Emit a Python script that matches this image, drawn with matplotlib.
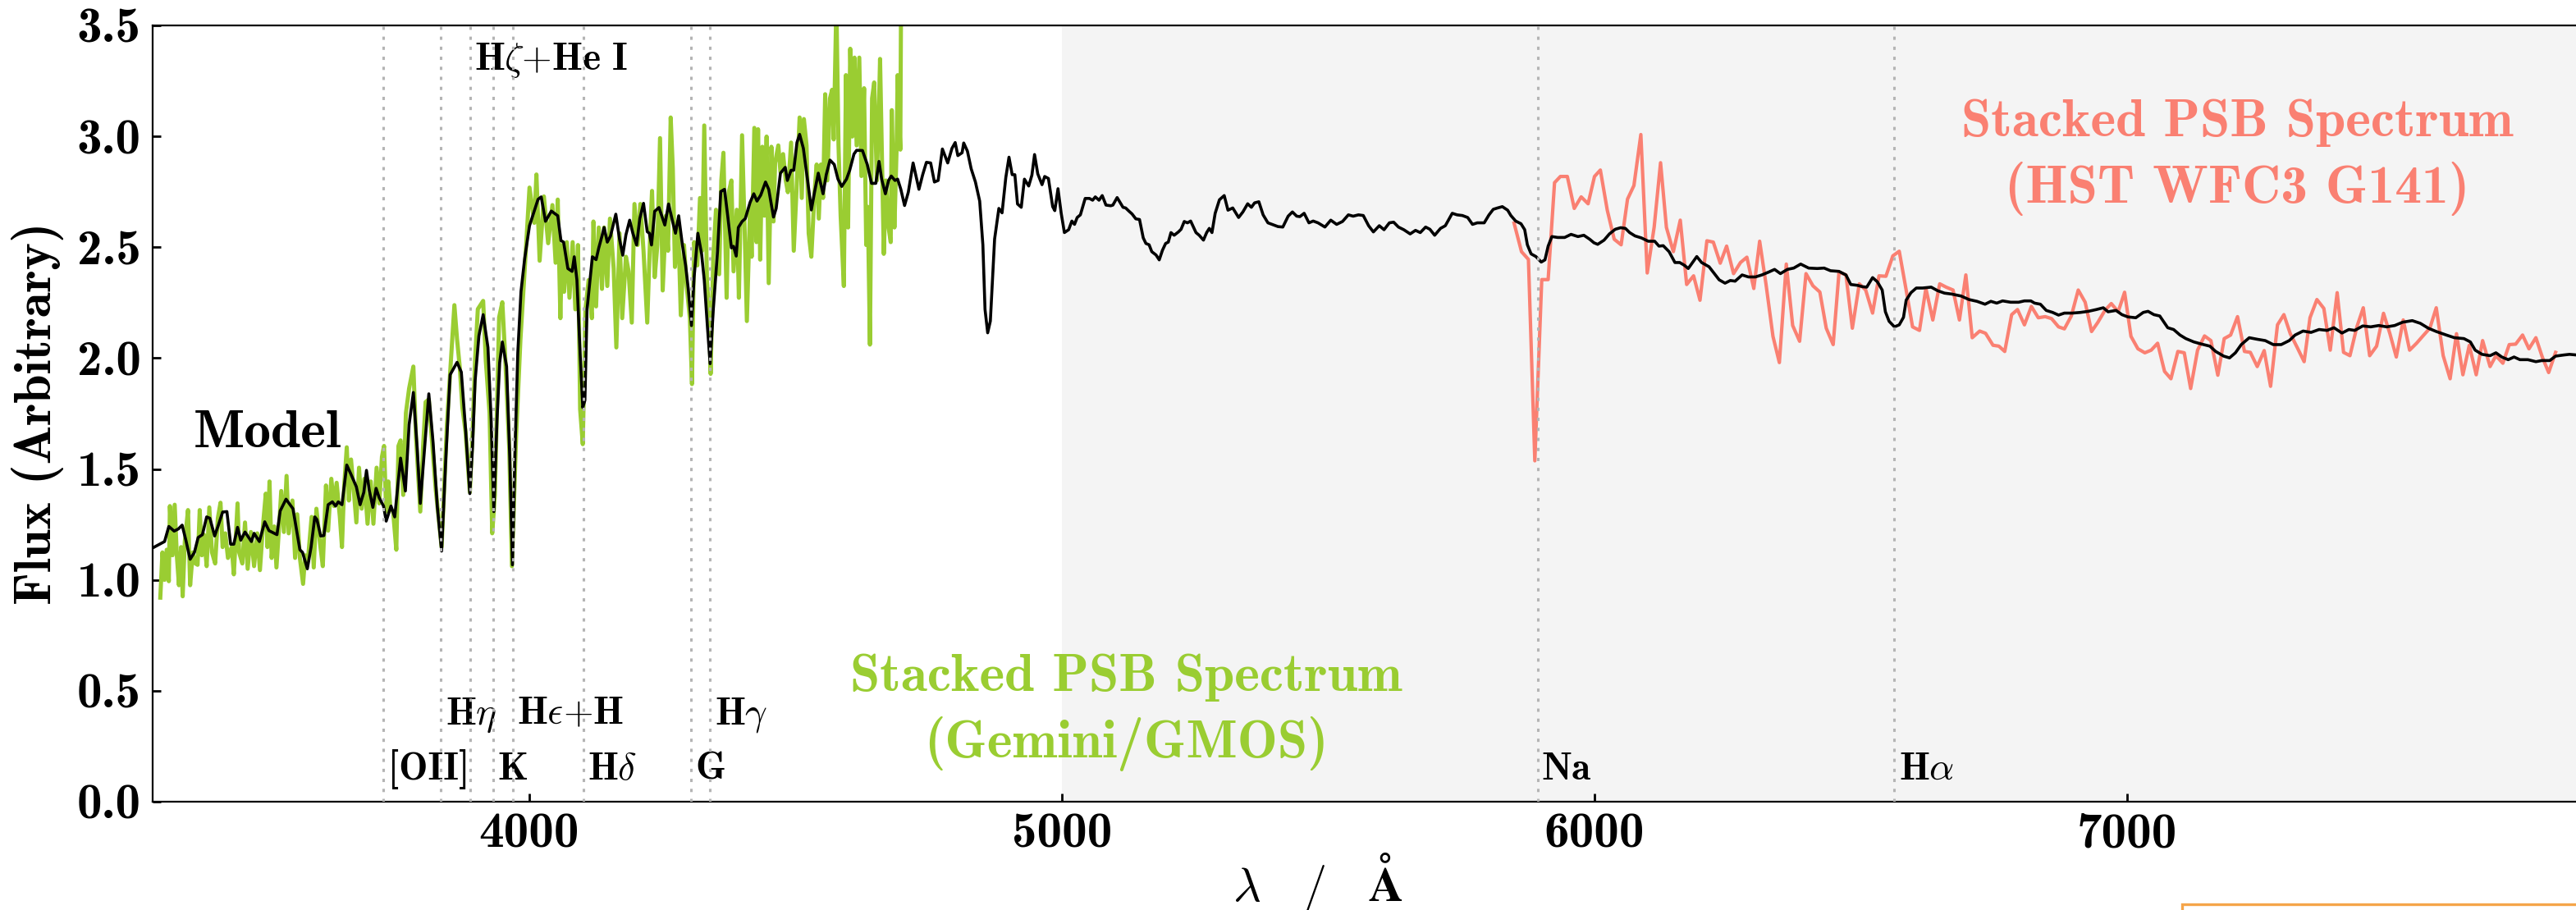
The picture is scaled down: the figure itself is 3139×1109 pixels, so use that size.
import matplotlib
matplotlib.use("Agg")
import matplotlib.pyplot as plt
import matplotlib.patches as patches
from matplotlib.ticker import MultipleLocator

plt.rcParams["font.family"] = ["cmb10", "DejaVu Serif"]
plt.rcParams["mathtext.fontset"] = "cm"
plt.rcParams["axes.unicode_minus"] = False

# Stacked GMOS spectrum (optical)
gmos_wave = [3308, 3312, 3316, 3320, 3324, 3326, 3331, 3335, 3339, 3343, 3347, 3350, 3354, 3360, 3364,
             3369, 3374, 3378, 3382, 3386, 3390, 3395, 3400, 3405, 3411, 3416, 3421, 3425, 3430, 3435,
             3442, 3446, 3453, 3456, 3462, 3467, 3472, 3478, 3484, 3490, 3495, 3501, 3506, 3509, 3513,
             3517, 3522, 3526, 3531, 3535, 3540, 3545, 3549, 3556, 3561, 3565, 3570, 3576, 3580, 3585,
             3592, 3596, 3601, 3608, 3613, 3619, 3623, 3629, 3634, 3639, 3645, 3649, 3653, 3658, 3662,
             3666, 3671, 3676, 3681, 3686, 3691, 3697, 3703, 3708, 3714, 3719, 3724, 3728, 3732, 3736,
             3740, 3745, 3751, 3755, 3759, 3764, 3769, 3775, 3783, 3788, 3796, 3801, 3806, 3812, 3817,
             3825, 3836, 3846, 3854, 3860, 3865, 3870, 3875, 3881, 3889, 3894, 3899, 3904, 3914, 3919,
             3926, 3931, 3936, 3944, 3950, 3955, 3963, 3968, 3976, 3984, 3992, 4001, 4010, 4014, 4020,
             4028, 4036, 4044, 4050, 4054, 4059, 4062, 4066, 4071, 4076, 4082, 4087, 4092, 4096, 4101,
             4106, 4112, 4118, 4121, 4126, 4131, 4137, 4141, 4147, 4152, 4159, 4164, 4170, 4175, 4182,
             4187, 4193, 4198, 4204, 4209, 4215, 4222, 4228, 4231, 4236, 4241, 4246, 4251, 4257, 4261,
             4266, 4270, 4274, 4280, 4285, 4291, 4296, 4302, 4306, 4310, 4316, 4321, 4325, 4329, 4334,
             4338, 4341, 4346, 4351, 4357, 4361, 4365, 4371, 4375, 4380, 4384, 4390, 4394, 4400, 4405,
             4409, 4415, 4418, 4423, 4427, 4430, 4434, 4438, 4442, 4446, 4450, 4455, 4459, 4462, 4468,
             4472, 4477, 4482, 4486, 4492, 4497, 4503, 4508, 4512, 4516, 4521, 4525, 4530, 4536, 4540,
             4544, 4548, 4552, 4556, 4560, 4565, 4569, 4572, 4577, 4581, 4585, 4591, 4595, 4599, 4603,
             4607, 4611, 4615, 4620, 4624, 4629, 4633, 4636, 4640, 4644, 4648, 4653, 4657, 4659, 4664,
             4666, 4670, 4675, 4679, 4681, 4686, 4690, 4692, 4697, 4699]
gmos_flux = [0.92, 1.124, 1.0, 1.136, 0.994, 1.333, 1.111, 1.339, 1.111, 0.976, 1.148, 0.926, 1.173, 1.315, 0.976,
             1.124, 1.074, 1.068, 1.315, 1.111, 1.204, 1.062, 1.327, 1.124, 1.074, 1.278, 1.348, 1.148, 1.21, 1.099,
             1.148, 1.025, 1.345, 1.124, 1.074, 1.259, 1.05, 1.216, 1.062, 1.21, 1.044, 1.253, 1.389, 1.148, 1.444,
             1.099, 1.241, 1.056, 1.241, 1.401, 1.216, 1.469, 1.21, 1.358, 1.099, 1.296, 1.099, 0.982, 1.111, 1.087,
             1.284, 1.056, 1.321, 1.161, 1.062, 1.426, 1.222, 1.456, 1.333, 1.438, 1.284, 1.148, 1.419, 1.598, 1.358,
             1.543, 1.407, 1.259, 1.506, 1.321, 1.456, 1.253, 1.444, 1.253, 1.506, 1.345, 1.555, 1.604, 1.308, 1.444,
             1.321, 1.308, 1.136, 1.604, 1.629, 1.383, 1.752, 1.863, 1.962, 1.641, 1.308, 1.592, 1.802, 1.814, 1.654,
             1.407, 1.148, 1.703, 2.011, 2.239, 2.085, 1.962, 1.777, 1.666, 1.395, 1.654, 2.0, 2.221, 2.258, 1.987,
             1.752, 1.21, 1.383, 2.184, 2.252, 2.024, 1.592, 1.062, 1.654, 2.085, 2.40, 2.769, 2.61, 2.828, 2.439,
             2.729, 2.518, 2.69, 2.43, 2.715, 2.18, 2.51, 2.299, 2.523, 2.272, 2.523, 2.22, 2.51, 1.77, 1.612,
             2.22, 2.352, 2.18, 2.616, 2.233, 2.589, 2.312, 2.589, 2.325, 2.629, 2.404, 2.048, 2.563, 2.18, 2.457,
             2.391, 2.16, 2.695, 2.51, 2.695, 2.484, 2.16, 2.589, 2.754, 2.365, 2.51, 2.992, 2.305, 2.642, 2.484,
             3.085, 2.854, 2.411, 2.616, 2.193, 2.51, 2.325, 2.18, 1.883, 2.523, 2.418, 2.722, 2.484, 3.049, 2.352,
             2.206, 1.929, 2.457, 2.669, 2.378, 2.801, 2.926, 2.272, 2.748, 2.801, 2.391, 2.669, 2.272, 3.005, 2.563,
             2.167, 2.682, 2.457, 3.038, 2.523, 3.032, 2.444, 2.953, 2.642, 2.999, 2.338, 2.953, 2.616, 2.88, 2.959,
             2.84, 2.92, 2.801, 2.748, 2.972, 2.484, 2.801, 3.085, 2.722, 3.078, 2.959, 2.563, 2.457, 2.748, 2.873,
             2.629, 2.873, 2.722, 3.19, 2.801, 3.171, 3.21, 2.986, 3.60, 2.959, 2.642, 2.325, 3.276, 2.589, 3.395,
             2.999, 3.355, 2.959, 3.355, 2.821, 3.217, 2.51, 2.682, 2.061, 3.171, 3.243, 2.801, 3.144, 3.349, 2.708,
             2.47, 2.801, 2.589, 2.523, 3.118, 2.589, 2.94, 3.276, 2.94, 3.90]

# Best-fit model spectrum
model_wave = [3280, 3292, 3316, 3324, 3334, 3342, 3349, 3356, 3364, 3372, 3379, 3387, 3395, 3401, 3410,
              3417, 3425, 3433, 3440, 3446, 3453, 3459, 3467, 3479, 3484, 3494, 3504, 3512, 3527, 3533,
              3544, 3557, 3570, 3575, 3584, 3591, 3598, 3602, 3609, 3615, 3623, 3631, 3637, 3642, 3649,
              3658, 3665, 3676, 3683, 3690, 3695, 3700, 3707, 3713, 3719, 3727, 3732, 3741, 3748, 3759,
              3768, 3775, 3783, 3790, 3796, 3803, 3812, 3820, 3828, 3836, 3844, 3852, 3865, 3873, 3881,
              3889, 3894, 3899, 3906, 3914, 3923, 3929, 3934, 3940, 3945, 3950, 3958, 3964, 3969, 3974,
              3979, 3985, 3992, 4001, 4017, 4023, 4031, 4042, 4054, 4060, 4065, 4073, 4081, 4085, 4090,
              4096, 4101, 4105, 4109, 4119, 4126, 4131, 4137, 4141, 4147, 4153, 4163, 4170, 4176, 4182,
              4189, 4195, 4202, 4208, 4215, 4222, 4226, 4230, 4236, 4244, 4255, 4262, 4269, 4275, 4281,
              4288, 4294, 4299, 4305, 4310, 4317, 4324, 4329, 4335, 4340, 4346, 4354, 4360, 4367, 4373,
              4380, 4384, 4389, 4393, 4400, 4406, 4415, 4422, 4428, 4435, 4444, 4450, 4459, 4464, 4472,
              4481, 4485, 4492, 4497, 4503, 4508, 4515, 4523, 4530, 4536, 4543, 4552, 4558, 4565, 4573,
              4580, 4587, 4596, 4602, 4610, 4615, 4626, 4635, 4643, 4651, 4657, 4662, 4669, 4675, 4680,
              4687, 4692, 4698, 4705, 4712, 4721, 4732, 4739, 4746, 4754, 4761, 4768, 4776, 4786, 4794,
              4800, 4805, 4813, 4816, 4823, 4830, 4838, 4846, 4852, 4856, 4861, 4866, 4874, 4882, 4888,
              4895, 4901, 4907, 4912, 4917, 4924, 4930, 4938, 4944, 4949, 4955, 4963, 4968, 4975, 4983,
              4987, 4993, 4999, 5005, 5013, 5019, 5024, 5029, 5035, 5044, 5052, 5058, 5063, 5070, 5076,
              5083, 5092, 5096, 5104, 5115, 5120, 5126, 5132, 5139, 5146, 5153, 5158, 5164, 5169, 5177,
              5183, 5189, 5195, 5200, 5205, 5211, 5219, 5224, 5230, 5236, 5242, 5252, 5258, 5266, 5272,
              5277, 5282, 5288, 5296, 5305, 5312, 5321, 5332, 5340, 5349, 5356, 5362, 5370, 5378, 5387,
              5397, 5406, 5415, 5425, 5433, 5441, 5447, 5455, 5464, 5472, 5481, 5494, 5505, 5516, 5527,
              5538, 5547, 5557, 5566, 5576, 5585, 5596, 5605, 5615, 5623, 5632, 5642, 5654, 5664, 5673,
              5683, 5691, 5700, 5711, 5720, 5733, 5742, 5752, 5762, 5771, 5780, 5793, 5802, 5810, 5818,
              5827, 5837, 5843, 5852, 5862, 5869, 5874, 5881, 5890, 5900, 5907, 5913, 5920, 5931, 5944,
              5956, 5969, 5980, 5991, 5999, 6006, 6018, 6028, 6039, 6049, 6058, 6066, 6076, 6088, 6101,
              6113, 6121, 6129, 6140, 6151, 6160, 6169, 6176, 6184, 6192, 6201, 6215, 6225, 6234, 6245,
              6255, 6264, 6277, 6289, 6302, 6314, 6327, 6338, 6349, 6362, 6374, 6387, 6402, 6418, 6431,
              6443, 6459, 6472, 6481, 6494, 6503, 6511, 6522, 6531, 6540, 6546, 6553, 6563, 6572, 6580,
              6585, 6594, 6604, 6616, 6632, 6644, 6657, 6670, 6688, 6703, 6718, 6733, 6744, 6755, 6766,
              6781, 6796, 6807, 6819, 6826, 6837, 6848, 6860, 6871, 6882, 6897, 6912, 6927, 6942, 6955,
              6964, 6979, 6990, 7001, 7016, 7030, 7039, 7050, 7061, 7069, 7076, 7087, 7099, 7110, 7125,
              7140, 7155, 7166, 7181, 7192, 7203, 7214, 7229, 7244, 7259, 7274, 7289, 7304, 7315, 7330,
              7345, 7360, 7375, 7388, 7403, 7416, 7427, 7442, 7457, 7472, 7487, 7502, 7517, 7535, 7550,
              7565, 7580, 7599, 7614, 7632, 7644, 7653, 7666, 7681, 7692, 7703, 7715, 7726, 7737, 7752,
              7767, 7778, 7793, 7804, 7819, 7830, 7844]
model_flux = [1.135, 1.142, 1.173, 1.241, 1.22, 1.23, 1.247, 1.179, 1.093, 1.124, 1.191, 1.204, 1.284, 1.278, 1.198,
              1.247, 1.306, 1.308, 1.161, 1.161, 1.237, 1.179, 1.216, 1.173, 1.21, 1.173, 1.262, 1.222, 1.204, 1.311,
              1.364, 1.321, 1.136, 1.124, 1.05, 1.148, 1.284, 1.272, 1.198, 1.2, 1.339, 1.352, 1.333, 1.352, 1.339,
              1.518, 1.481, 1.42, 1.339, 1.395, 1.494, 1.407, 1.327, 1.413, 1.37, 1.333, 1.265, 1.333, 1.284, 1.549,
              1.401, 1.70, 1.845, 1.60, 1.345, 1.56, 1.839, 1.62, 1.33, 1.13, 1.55, 1.925, 1.981, 1.937, 1.68,
              1.389, 1.60, 1.9, 2.10, 2.196, 2.048, 1.72, 1.308, 1.72, 1.98, 2.073, 1.962, 1.55, 1.068, 1.60,
              2.024, 2.30, 2.45, 2.597, 2.716, 2.727, 2.617, 2.663, 2.642, 2.53, 2.523, 2.404, 2.391, 2.457, 2.352,
              2.021, 1.777, 1.81, 2.22, 2.457, 2.444, 2.497, 2.55, 2.589, 2.523, 2.55, 2.649, 2.536, 2.464, 2.556,
              2.622, 2.563, 2.51, 2.629, 2.698, 2.57, 2.563, 2.51, 2.662, 2.679, 2.6, 2.695, 2.622, 2.563, 2.642,
              2.51, 2.418, 2.312, 2.147, 2.365, 2.563, 2.47, 2.352, 2.14, 1.975, 2.22, 2.484, 2.751, 2.761, 2.642,
              2.497, 2.504, 2.46, 2.589, 2.616, 2.629, 2.702, 2.741, 2.708, 2.735, 2.794, 2.761, 2.636, 2.675, 2.834,
              2.86, 2.801, 2.847, 2.847, 2.972, 3.009, 2.946, 2.801, 2.668, 2.748, 2.834, 2.741, 2.827, 2.893, 2.873,
              2.807, 2.774, 2.807, 2.847, 2.92, 2.937, 2.936, 2.873, 2.788, 2.788, 2.887, 2.807, 2.741, 2.801, 2.821,
              2.801, 2.807, 2.761, 2.688, 2.748, 2.88, 2.761, 2.827, 2.883, 2.88, 2.794, 2.801, 2.943, 2.88, 2.946,
              2.972, 2.913, 2.926, 2.97, 2.933, 2.854, 2.794, 2.708, 2.51, 2.22, 2.114, 2.167, 2.537, 2.675, 2.655,
              2.814, 2.906, 2.827, 2.827, 2.695, 2.68, 2.807, 2.776, 2.825, 2.918, 2.831, 2.782, 2.819, 2.81, 2.683,
              2.665, 2.764, 2.653, 2.566, 2.579, 2.618, 2.603, 2.634, 2.646, 2.72, 2.72, 2.712, 2.727, 2.712, 2.733,
              2.69, 2.687, 2.69, 2.724, 2.68, 2.677, 2.663, 2.65, 2.628, 2.625, 2.542, 2.517, 2.511, 2.48, 2.465,
              2.443, 2.486, 2.517, 2.523, 2.566, 2.554, 2.569, 2.581, 2.616, 2.61, 2.618, 2.566, 2.554, 2.532, 2.566,
              2.585, 2.566, 2.653, 2.714, 2.733, 2.667, 2.677, 2.634, 2.659, 2.696, 2.68, 2.7, 2.705, 2.646, 2.61,
              2.601, 2.593, 2.591, 2.64, 2.659, 2.64, 2.638, 2.653, 2.61, 2.618, 2.61, 2.591, 2.622, 2.603, 2.616,
              2.646, 2.64, 2.646, 2.643, 2.597, 2.569, 2.597, 2.579, 2.61, 2.613, 2.591, 2.579, 2.56, 2.576, 2.566,
              2.591, 2.581, 2.554, 2.585, 2.597, 2.653, 2.646, 2.643, 2.634, 2.603, 2.61, 2.61, 2.646, 2.671, 2.677,
              2.683, 2.667, 2.643, 2.618, 2.606, 2.579, 2.511, 2.47, 2.458, 2.433, 2.443, 2.505, 2.548, 2.544, 2.544,
              2.558, 2.548, 2.554, 2.536, 2.52, 2.513, 2.532, 2.56, 2.581, 2.588, 2.585, 2.566, 2.551, 2.542, 2.527,
              2.527, 2.505, 2.507, 2.48, 2.431, 2.431, 2.418, 2.404, 2.431, 2.458, 2.431, 2.412, 2.381, 2.353, 2.338,
              2.35, 2.347, 2.375, 2.366, 2.366, 2.375, 2.388, 2.4, 2.381, 2.4, 2.406, 2.424, 2.406, 2.404, 2.406,
              2.394, 2.391, 2.375, 2.332, 2.328, 2.322, 2.32, 2.363, 2.344, 2.307, 2.209, 2.166, 2.141, 2.15, 2.184,
              2.261, 2.295, 2.316, 2.316, 2.32, 2.304, 2.293, 2.289, 2.28, 2.264, 2.256, 2.243, 2.256, 2.248, 2.258,
              2.252, 2.252, 2.258, 2.258, 2.248, 2.243, 2.215, 2.206, 2.194, 2.203, 2.203, 2.206, 2.211, 2.219, 2.227,
              2.209, 2.215, 2.196, 2.186, 2.182, 2.206, 2.211, 2.196, 2.19, 2.162, 2.137, 2.129, 2.104, 2.088, 2.073,
              2.063, 2.054, 2.03, 2.009, 2.001, 2.024, 2.061, 2.092, 2.085, 2.079, 2.061, 2.061, 2.079, 2.104, 2.122,
              2.116, 2.129, 2.125, 2.137, 2.113, 2.129, 2.125, 2.145, 2.141, 2.147, 2.141, 2.147, 2.162, 2.169, 2.157,
              2.135, 2.12, 2.104, 2.092, 2.088, 2.073, 2.036, 2.017, 2.011, 2.024, 2.005, 1.993, 2.005, 1.993, 1.993,
              1.984, 1.989, 1.989, 2.009, 2.014, 2.017, 2.014]

# Stacked HST WFC3 G141 grism spectrum
hst_wave = [5849, 5863, 5876, 5888, 5901, 5913, 5925, 5936, 5949, 5962, 5975, 5988, 6000, 6011, 6024,
            6037, 6050, 6062, 6074, 6087, 6099, 6112, 6124, 6135, 6148, 6161, 6173, 6186, 6198, 6211,
            6223, 6236, 6248, 6261, 6274, 6286, 6299, 6310, 6322, 6335, 6347, 6360, 6372, 6385, 6397,
            6410, 6423, 6435, 6448, 6459, 6472, 6484, 6497, 6509, 6522, 6534, 6547, 6560, 6572, 6585,
            6597, 6610, 6622, 6635, 6648, 6660, 6673, 6685, 6697, 6709, 6723, 6734, 6748, 6759, 6770,
            6783, 6794, 6807, 6820, 6833, 6846, 6858, 6871, 6882, 6895, 6908, 6921, 6933, 6945, 6958,
            6970, 6983, 6995, 7007, 7020, 7033, 7045, 7057, 7070, 7082, 7095, 7107, 7119, 7132, 7145,
            7157, 7170, 7182, 7194, 7207, 7220, 7231, 7244, 7257, 7269, 7282, 7294, 7306, 7319, 7332,
            7343, 7356, 7369, 7381, 7394, 7406, 7418, 7431, 7443, 7455, 7468, 7481, 7493, 7505, 7518,
            7530, 7543, 7555, 7568, 7580, 7593, 7606, 7618, 7630, 7642, 7655, 7667, 7681, 7692, 7705,
            7717, 7729, 7742, 7754, 7767, 7779, 7791, 7804]
hst_flux = [2.609, 2.48, 2.445, 1.537, 2.354, 2.354, 2.791, 2.819, 2.819, 2.675, 2.727, 2.696, 2.819, 2.848, 2.667,
            2.536, 2.511, 2.717, 2.778, 3.008, 2.384, 2.591, 2.881, 2.589, 2.48, 2.622, 2.332, 2.371, 2.261, 2.529,
            2.523, 2.428, 2.505, 2.381, 2.431, 2.455, 2.314, 2.527, 2.332, 2.098, 1.98, 2.424, 2.147, 2.076, 2.381,
            2.326, 2.298, 2.135, 2.061, 2.388, 2.375, 2.135, 2.335, 2.307, 2.203, 2.371, 2.369, 2.461, 2.482, 2.307,
            2.141, 2.125, 2.314, 2.172, 2.335, 2.32, 2.307, 2.172, 2.375, 2.092, 2.122, 2.112, 2.058, 2.054, 2.03,
            2.196, 2.219, 2.15, 2.233, 2.182, 2.187, 2.178, 2.141, 2.132, 2.19, 2.307, 2.252, 2.12, 2.162, 2.215,
            2.246, 2.209, 2.297, 2.098, 2.042, 2.024, 2.036, 2.067, 1.94, 1.907, 2.03, 2.024, 1.863, 2.036, 2.1,
            2.079, 1.923, 2.088, 2.104, 2.187, 2.03, 2.026, 1.962, 2.034, 1.873, 2.15, 2.196, 2.11, 2.048, 1.984,
            2.182, 2.264, 2.224, 2.036, 2.295, 2.026, 2.011, 2.141, 2.227, 2.011, 2.054, 2.202, 2.11, 2.005, 2.172,
            2.036, 2.067, 2.1, 2.135, 2.227, 2.011, 1.907, 2.11, 1.925, 2.058, 1.925, 2.079, 1.962, 2.011, 1.977,
            2.061, 2.063, 2.104, 2.042, 2.092, 2.005, 1.935, 2.026]

# Spectral features marked on the plot
line_wave = [3727, 3835, 3889, 3933, 3970, 4102, 4304, 4340, 5893, 6563]
upper_labels = [(3835, r"$\mathbf{H}\eta$"), (3970, r"$\mathbf{H}\epsilon\mathbf{+H}$"), (4340, r"$\mathbf{H}\gamma$")]
lower_labels = [(3727, "[OII]"), (3933, "K"), (4102, r"$\mathbf{H}\delta$"), (4304, "G"),
                (5893, "Na"), (6563, r"$\mathbf{H}\alpha$")]

W, H = 3139, 1109
fig = plt.figure(figsize=(W / 200, H / 200), dpi=200)
x0, x1 = 3293, 7900
ax = fig.add_axes([185.6 / W, 132 / H, (x1 - x0) * 0.6492 / W, 946 / H])

ax.axvspan(5000, 8200, color="#f4f4f4", lw=0, zorder=0)
ax.plot(gmos_wave, gmos_flux, color="yellowgreen", lw=1.8, zorder=2)
ax.plot(hst_wave, hst_flux, color="salmon", lw=1.5, zorder=2)
ax.plot(model_wave, model_flux, color="black", lw=1.3, zorder=3)
for w in line_wave:
    ax.axvline(w, color="#b4b4b4", lw=1.1, ls=(0, (1.3, 2.7)), zorder=4)

for w, s in upper_labels:
    ax.text(w + 8, 0.35, s, fontsize=17, ha="left", va="baseline")
for w, s in lower_labels:
    ax.text(w + 8, 0.10, s, fontsize=17, ha="left", va="baseline")
ax.text(3897, 3.30, r"$\mathbf{H}\zeta\mathbf{+He\ I}$", fontsize=17, ha="left", va="baseline")
ax.text(3371, 1.60, "Model", fontsize=23.6, ha="left", va="baseline")

ax.text(5121, 0.50, "Stacked PSB Spectrum", color="yellowgreen", fontsize=23.6, ha="center", va="baseline")
ax.text(5121, 0.20, "(Gemini/GMOS)", color="yellowgreen", fontsize=23.6, ha="center", va="baseline")
ax.text(7206, 3.00, "Stacked PSB Spectrum", color="salmon", fontsize=23.6, ha="center", va="baseline")
ax.text(7206, 2.70, "(HST WFC3 G141)", color="salmon", fontsize=23.6, ha="center", va="baseline")

ax.set_xlim(x0, x1)
ax.set_ylim(0, 3.5)
ax.xaxis.set_major_locator(MultipleLocator(1000))
ax.yaxis.set_major_locator(MultipleLocator(0.5))
ax.tick_params(direction="in", length=3.6, width=1.0, labelsize=22, pad=5)
ax.set_xlabel(r"$\boldsymbol{\lambda}\quad\mathbf{/}\quad\mathbf{\AA}$", fontsize=21)
ax.xaxis.label.set_va("baseline")
ax.set_ylabel("Flux (Arbitrary)", fontsize=22.8)
ax.xaxis.set_label_coords((5480 - x0) / (x1 - x0), -0.128)
ax.yaxis.set_label_coords(-0.036, 0.5)

# edge of the neighbouring panel frame
fig.patches.append(patches.Rectangle((2659 / W, -0.05), 0.3, 0.05 + 7 / H, transform=fig.transFigure,
                                     fill=False, edgecolor="#f5a54a", lw=1.2))

fig.savefig("out.png", dpi=200)
